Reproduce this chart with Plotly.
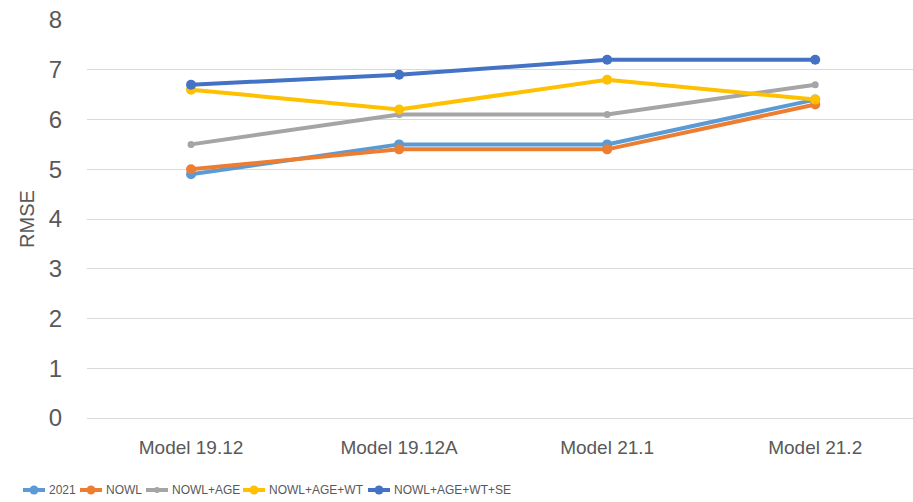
import plotly.graph_objects as go

# RMSE of each model version for the five covariate sets
models = ["Model 19.12", "Model 19.12A", "Model 21.1", "Model 21.2"]
rmse_2021 = [4.9, 5.5, 5.5, 6.4]
rmse_nowl = [5.0, 5.4, 5.4, 6.3]
rmse_nowl_age = [5.5, 6.1, 6.1, 6.7]
rmse_nowl_age_wt = [6.6, 6.2, 6.8, 6.4]
rmse_nowl_age_wt_se = [6.7, 6.9, 7.2, 7.2]

series_names = ["2021", "NOWL", "NOWL+AGE", "NOWL+AGE+WT", "NOWL+AGE+WT+SE"]
series_values = [rmse_2021, rmse_nowl, rmse_nowl_age, rmse_nowl_age_wt, rmse_nowl_age_wt_se]
series_colors = ["#5B9BD5", "#ED7D31", "#A5A5A5", "#FFC000", "#4472C4"]
marker_sizes = [10, 10, 7, 10, 10]

y_ticks = [0, 1, 2, 3, 4, 5, 6, 7, 8]

W, H = 913, 502
M_L, M_R, M_T, M_B = 87, 0, 20, 84
plot_w = W - M_L - M_R
plot_h = H - M_T - M_B

fig = go.Figure()
for name, vals, color, msize in zip(series_names, series_values, series_colors, marker_sizes):
    fig.add_trace(go.Scatter(
        x=models, y=vals, name=name, mode="lines+markers",
        line=dict(color=color, width=4),
        marker=dict(color=color, size=msize, symbol="circle"),
        showlegend=False,
    ))

# Legend row along the bottom: a short line with a dot, followed by the name
def px_x(px):
    return (px - M_L) / plot_w

def px_y(py):
    return (H - M_B - py) / plot_h

legend_line_starts = [23, 80, 146, 243, 368]
legend_row_y = 490
swatch_len = 22
shapes, annotations = [], []
for name, color, msize, x0 in zip(series_names, series_colors, marker_sizes, legend_line_starts):
    shapes.append(dict(
        type="line", xref="paper", yref="paper",
        x0=px_x(x0), x1=px_x(x0 + swatch_len), y0=px_y(legend_row_y), y1=px_y(legend_row_y),
        line=dict(color=color, width=4),
    ))
    r = msize / 2 - 0.5
    cx = x0 + swatch_len / 2
    shapes.append(dict(
        type="circle", xref="paper", yref="paper",
        x0=px_x(cx - r), x1=px_x(cx + r), y0=px_y(legend_row_y + r), y1=px_y(legend_row_y - r),
        fillcolor=color, line=dict(width=0),
    ))
    annotations.append(dict(
        text=name, xref="paper", yref="paper", showarrow=False,
        x=px_x(x0 + swatch_len + 2), y=px_y(legend_row_y),
        xanchor="left", yanchor="middle",
        font=dict(family="Liberation Sans, Arial, sans-serif", size=12, color="#595959"),
    ))

font_family = "Liberation Sans, Arial, sans-serif"

fig.update_layout(
    width=W, height=H,
    margin=dict(l=M_L, r=M_R, t=M_T, b=M_B, autoexpand=False),
    paper_bgcolor="white", plot_bgcolor="white",
    showlegend=False,
    shapes=shapes,
    annotations=annotations,
    xaxis=dict(
        type="category", range=[-0.5, 3.47],
        showgrid=False, showline=False, zeroline=False, ticks="",
        tickfont=dict(family=font_family, size=19, color="#595959"),
        ticklabelstandoff=16,
    ),
    yaxis=dict(
        range=[0, 8], tickvals=y_ticks, ticktext=[str(v) for v in y_ticks],
        showgrid=True, gridcolor="#D9D9D9", gridwidth=1,
        zeroline=True, zerolinecolor="#D9D9D9", zerolinewidth=1,
        showline=False, ticks="",
        tickfont=dict(family=font_family, size=24, color="#595959"),
        ticklabelstandoff=24,
        title=dict(text="RMSE", font=dict(family=font_family, size=20, color="#595959"), standoff=8),
    ),
)

fig.write_html("out.html")
